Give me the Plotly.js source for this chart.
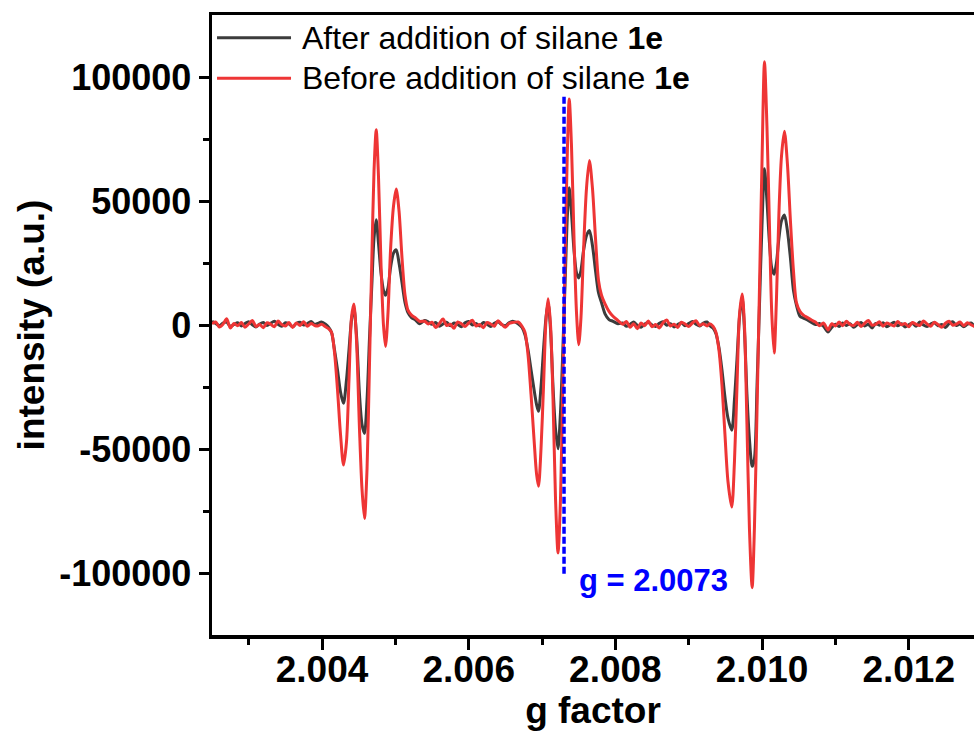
<!DOCTYPE html>
<html><head><meta charset="utf-8">
<script src="https://cdn.plot.ly/plotly-3.0.1.min.js"></script>
<style>html,body{margin:0;padding:0;background:#fff}</style>
</head><body>
<div id="chart" style="width:974px;height:738px"></div>
<script>
// g factor values (shared by both spectra)
const gFactor = [
  2.00250,2.00255,2.00260,2.00265,2.00270,2.00275,2.00280,2.00285,2.00290,2.00295,
  2.00300,2.00305,2.00310,2.00315,2.00320,2.00325,2.00330,2.00335,2.00340,2.00345,
  2.00350,2.00355,2.00360,2.00365,2.00370,2.00375,2.00380,2.00385,2.00390,
  2.003939,2.003993,2.004048,2.004089,2.004130,2.004170,2.004211,2.004252,2.004293,2.004334,
  2.004368,2.004402,2.004434,2.004470,2.004511,2.004545,2.004579,2.004614,2.004648,2.004682,
  2.004709,2.004739,2.004770,2.004804,2.004838,2.004866,2.004900,2.004934,2.004975,2.005012,
  2.005050,2.005091,2.005132,2.005172,2.005220,2.005275,2.005329,
  2.00540,2.00545,2.00550,2.00555,2.00560,2.00565,2.00570,2.00575,2.00580,2.00585,
  2.00590,2.00595,2.00600,2.00605,2.00610,2.00615,2.00620,2.00625,2.00630,2.00635,
  2.00640,2.00645,2.00650,2.00655,2.00660,
  2.006673,2.006727,2.006768,2.006809,2.006850,2.006891,2.006925,2.006952,2.006986,2.007020,
  2.007054,2.007083,2.007116,2.007150,2.007184,2.007218,2.007252,2.007286,2.007320,2.007347,
  2.007371,2.007402,2.007436,2.007470,2.007501,2.007531,2.007566,2.007606,2.007646,2.007688,
  2.007729,2.007770,2.007811,2.007859,2.007913,2.007968,2.008036,
  2.00810,2.00815,2.00820,2.00825,2.00830,2.00835,2.00840,2.00845,2.00850,2.00855,
  2.00860,2.00865,2.00870,2.00875,2.00880,2.00885,2.00890,2.00895,2.00900,2.00905,
  2.00910,2.00915,2.00920,2.00925,
  2.009283,2.009331,2.009372,2.009412,2.009453,2.009494,2.009535,2.009587,2.009624,2.009658,
  2.009692,2.009729,2.009760,2.009794,2.009828,2.009865,2.009896,2.009931,2.009965,2.009999,
  2.010033,2.010067,2.010101,2.010132,2.010165,2.010196,2.010230,2.010265,2.010305,2.010346,
  2.010387,2.010428,2.010469,2.010517,2.010564,2.010619,2.010674,2.010728,2.010783,2.010837,
  2.01090,2.01095,2.01100,2.01105,2.01110,2.01115,2.01120,2.01125,2.01130,2.01135,
  2.01140,2.01145,2.01150,2.01155,2.01160,2.01165,2.01170,2.01175,2.01180,2.01185,
  2.01190,2.01195,2.01200,2.01205,2.01210,2.01215,2.01220,2.01225,2.01230,2.01235,
  2.01240,2.01245,2.01250,2.01255,2.01260,2.01265,2.01270,2.01275,2.01280,2.01285,
  2.01290,2.01295,2.01300
];

// intensity after addition of silane 1e (a.u.)
const intensityAfter = [
  1500,600,-300,800,1200,-600,200,900,-400,600,
  1300,100,-800,400,1000,-200,700,1500,300,-500,
  900,400,-700,600,1100,0,500,1400,200,
  600,1200,300,-900,-3000,-10000,-18000,-27000,-31600,-22000,
  -10000,2000,7000,-4000,-28000,-40000,-43700,-30000,-5000,18000,
  35000,42400,33000,21000,14000,12000,15000,23000,29000,30300,
  25000,17000,9000,5000,3000,2000,500,
  1800,1200,300,1000,-500,400,1100,-300,800,200,
  -700,900,1400,0,600,-400,1000,300,-600,700,
  1300,200,-300,900,1500,
  500,-1000,-4000,-10000,-18000,-26000,-32000,-34800,-25000,-10000,
  3000,9000,-2000,-25000,-42000,-49900,-35000,-8000,22000,45000,
  55300,45000,30000,21000,19000,22000,30000,36000,38100,32000,
  22000,13000,9000,4500,2200,1500,500,
  800,-500,300,1200,-200,-900,400,1000,0,-600,
  700,1300,-100,500,-800,200,900,-300,600,1400,
  300,-400,800,1200,
  -200,-1200,-3500,-9000,-18000,-29000,-37500,-42400,-30000,-14000,
  3000,11000,-2000,-28000,-46000,-57000,-54000,-25000,8000,40000,
  63000,50000,33000,23000,20500,25000,35000,42000,44400,38000,
  27000,14000,8000,3500,2800,2000,1000,200,600,-500,
  -2800,-1000,300,-600,800,-200,500,-900,200,1000,
  -400,300,-1200,600,-100,900,-700,200,1100,-300,
  500,-800,100,700,-500,1200,0,-600,400,900,
  -300,200,-1000,600,1300,-200,400,-700,300,800,
  -400,200,600
];

// intensity before addition of silane 1e (a.u.)
const intensityBefore = [
  500,1200,-800,300,2500,-1200,600,-300,1000,-900,
  400,1800,-600,200,-1100,900,300,-700,1600,200,
  -400,1000,-1000,800,-200,1300,-500,600,-200,
  -400,300,-700,-1500,-3000,-11000,-26000,-44000,-56500,-47000,
  -22000,3000,8500,-6000,-42000,-66000,-78000,-58000,-15000,30000,
  62000,78700,60000,25000,0,-8700,5000,30000,48000,54800,
  46000,27000,12000,6000,4000,2800,1500,
  1500,400,1100,-1000,600,2400,-200,300,-1300,1200,
  500,-600,800,1900,-400,200,-1100,1000,400,-500,
  1700,300,-900,600,1000,
  1200,-500,-3000,-12000,-28000,-46000,-60000,-65000,-50000,-25000,
  2000,10600,0,-30000,-70000,-91900,-70000,-20000,35000,72000,
  91100,72000,35000,5000,-7950,3000,30000,55000,66300,55000,
  35000,18000,12000,8500,5500,3500,1800,
  300,1400,-900,500,-1500,800,-300,1600,-700,200,
  -1200,900,2000,-400,300,-1000,1100,400,-600,800,
  1700,-200,500,-400,
  500,-500,-3000,-10000,-24000,-44000,-63000,-73400,-55000,-25000,
  4000,12500,0,-40000,-82000,-105900,-82000,-35000,15000,65000,
  106100,80000,40000,5000,-11300,10000,45000,68000,78100,65000,
  42000,22000,9000,5500,4000,3000,2000,1200,-300,800,
  -2000,500,-400,1200,-300,1500,200,-200,1100,-600,
  700,1800,-100,300,1300,-500,800,200,-400,1400,
  100,600,-700,1000,300,-200,1600,400,-500,1100,
  200,-900,700,1500,-100,400,1200,-300,900,100,
  -600,800,300
];

const seriesNames = ['After addition of silane <b>1e</b>', 'Before addition of silane <b>1e</b>'];
const seriesColors = ['#3c3c3c', '#ee3535'];

const xTickVals = [2.004, 2.006, 2.008, 2.010, 2.012];
const xMinorVals = [2.003, 2.005, 2.007, 2.009, 2.011];
const yTickVals = [-100000, -50000, 0, 50000, 100000];
const yTickText = ['-100000', '-50000', '0', '50000', '100000'];
const yMinorVals = [-75000, -25000, 25000, 75000];

const markerG = 2.0073;
const markerTop = 92000;
const markerBottom = -101000;
const markerLabel = 'g = 2.0073';

const FONT = 'Liberation Sans, Arial, sans-serif';

const traces = [
  {x: gFactor, y: intensityAfter, name: seriesNames[0], type: 'scatter', mode: 'lines',
   line: {color: seriesColors[0], width: 3, shape: 'spline', smoothing: 0.8}, showlegend: false},
  {x: gFactor, y: intensityBefore, name: seriesNames[1], type: 'scatter', mode: 'lines',
   line: {color: seriesColors[1], width: 3, shape: 'spline', smoothing: 0.8}, showlegend: false}
];

const legendY = [0.9634, 0.8979];

const layout = {
  width: 974, height: 738,
  margin: {l: 212, r: 0, t: 15, b: 103},
  paper_bgcolor: '#fff', plot_bgcolor: '#fff',
  showlegend: false,
  xaxis: {
    range: [2.0025, 2.01289], showgrid: false, zeroline: false,
    showline: true, linewidth: 3.5, linecolor: '#000', mirror: true,
    ticks: 'outside', ticklen: 11, tickwidth: 3, tickcolor: '#000',
    tickmode: 'array', tickvals: xTickVals, tickformat: '.3f',
    ticklabelstandoff: -12,
    tickfont: {family: FONT, size: 37, color: '#000', weight: 'bold'},
    minor: {tickmode: 'array', tickvals: xMinorVals, ticks: 'outside', ticklen: 6, tickwidth: 3, tickcolor: '#000'},
    title: {text: 'g factor', font: {family: FONT, size: 37, color: '#000', weight: 'bold'}, standoff: 0},
    automargin: false
  },
  yaxis: {
    range: [-125000, 125000], showgrid: false, zeroline: false,
    showline: true, linewidth: 3.5, linecolor: '#000', mirror: false,
    ticks: 'outside', ticklen: 10, tickwidth: 3, tickcolor: '#000',
    tickmode: 'array', tickvals: yTickVals, ticktext: yTickText,
    tickfont: {family: FONT, size: 36, color: '#000', weight: 'bold'},
    minor: {tickmode: 'array', tickvals: yMinorVals, ticks: 'outside', ticklen: 6, tickwidth: 3, tickcolor: '#000'},
    title: {text: 'intensity (a.u.)', font: {family: FONT, size: 37, color: '#000', weight: 'bold'}, standoff: 4},
    automargin: false
  },
  shapes: [
    {type: 'line', xref: 'x', yref: 'y', x0: markerG, x1: markerG, y0: markerTop, y1: markerBottom,
     line: {color: '#0000ff', width: 3.5, dash: '7px,3px'}},
    {type: 'line', xref: 'paper', yref: 'paper', x0: 0.0066, x1: 0.1037, y0: legendY[0], y1: legendY[0],
     line: {color: seriesColors[0], width: 3}},
    {type: 'line', xref: 'paper', yref: 'paper', x0: 0.0066, x1: 0.1037, y0: legendY[1], y1: legendY[1],
     line: {color: seriesColors[1], width: 3}}
  ],
  annotations: [
    {xref: 'paper', yref: 'paper', x: 0.1155, y: legendY[0], xanchor: 'left', yanchor: 'middle',
     text: seriesNames[0], showarrow: false, font: {family: FONT, size: 32, color: '#000'}},
    {xref: 'paper', yref: 'paper', x: 0.1155, y: legendY[1], xanchor: 'left', yanchor: 'middle',
     text: seriesNames[1], showarrow: false, font: {family: FONT, size: 32, color: '#000'}},
    {xref: 'x', yref: 'y', x: 2.007478, y: -102900, xanchor: 'left', yanchor: 'middle',
     text: '<b>' + markerLabel + '</b>', showarrow: false, font: {family: FONT, size: 31, color: '#0000ff'}}
  ]
};

Plotly.newPlot('chart', traces, layout, {displayModeBar: false, staticPlot: true});
</script>
</body></html>
